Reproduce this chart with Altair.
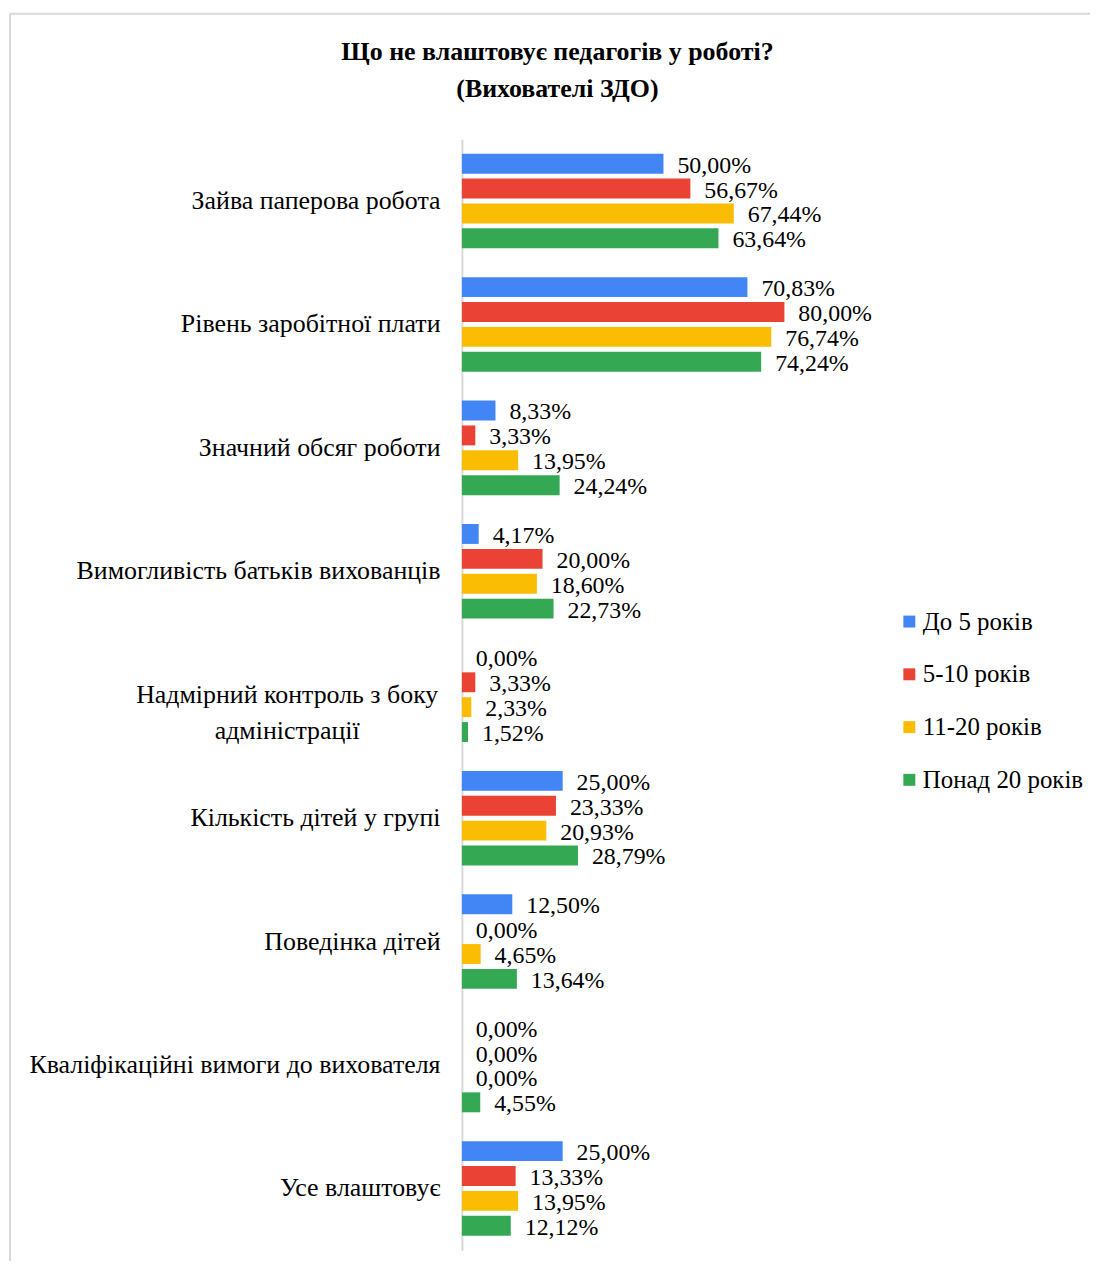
import altair as alt
import pandas as pd

categories = [
    "Зайва паперова робота",
    "Рівень заробітної плати",
    "Значний обсяг роботи",
    "Вимогливість батьків вихованців",
    "Надмірний контроль з боку\nадміністрації",
    "Кількість дітей у групі",
    "Поведінка дітей",
    "Кваліфікаційні  вимоги до вихователя",
    "Усе влаштовує",
]
series = ["До 5 років", "5-10 років", "11-20 років", "Понад 20 років"]
colors = ["#4285F4", "#EA4335", "#FBBC04", "#34A853"]

v_do5 = [50.00, 70.83, 8.33, 4.17, 0.00, 25.00, 12.50, 0.00, 25.00]
v_5_10 = [56.67, 80.00, 3.33, 20.00, 3.33, 23.33, 0.00, 0.00, 13.33]
v_11_20 = [67.44, 76.74, 13.95, 18.60, 2.33, 20.93, 4.65, 0.00, 13.95]
v_20p = [63.64, 74.24, 24.24, 22.73, 1.52, 28.79, 13.64, 4.55, 12.12]

title_lines = ["Що не влаштовує педагогів у роботі?", "(Вихователі ЗДО)"]

FONT = "Liberation Serif"
FS = 26

rows = []
for s, vals in zip(series, [v_do5, v_5_10, v_11_20, v_20p]):
    for c, v in zip(categories, vals):
        rows.append({"category": c, "series": s, "value": v})
df = pd.DataFrame(rows)

y_enc = alt.Y(
    "category:N",
    sort=categories,
    title=None,
    scale=alt.Scale(paddingInner=0.234, paddingOuter=0.117),
    axis=alt.Axis(
        domainColor="#d9d9d9",
        domainWidth=2,
        ticks=False,
        grid=False,
        labelFont=FONT,
        labelFontSize=FS,
        labelColor="#000000",
        labelLimit=0,
        labelLineHeight=36,
        labelBaseline="middle",
        labelExpr="split(datum.label, '\\n')",
        labelAlign={
            "condition": {"test": "indexof(datum.value, 'Надмірний') >= 0", "value": "center"},
            "value": "right",
        },
        labelPadding={
            "condition": {"test": "indexof(datum.value, 'Надмірний') >= 0", "value": 176},
            "value": 22,
        },
    ),
)
yoff_enc = alt.YOffset("series:N", sort=series, scale=alt.Scale(paddingInner=0.2, paddingOuter=0))
x_enc = alt.X("value:Q", scale=alt.Scale(domain=[0, 100]), axis=None)

bars = alt.Chart(df).mark_bar().encode(
    x=x_enc,
    y=y_enc,
    yOffset=yoff_enc,
    color=alt.Color(
        "series:N",
        sort=series,
        scale=alt.Scale(domain=series, range=colors),
        legend=alt.Legend(
            title=None,
            orient="none",
            legendX=437,
            legendY=472,
            symbolType="square",
            symbolSize=144,
            symbolStrokeWidth=0,
            labelFont=FONT,
            labelFontSize=25,
            labelColor="#000000",
            labelOffset=1,
            rowPadding=27,
            labelLimit=0,
        ),
    ),
)

labels = alt.Chart(df).transform_calculate(
    label="replace(format(datum.value, '.2f'), '.', ',') + '%'"
).mark_text(
    align="left", baseline="middle", dx=14, dy=2, font=FONT, fontSize=24, color="#000000"
).encode(x=x_enc, y=alt.Y("category:N", sort=categories), yOffset=yoff_enc, text="label:N")

one = alt.Data(values=[{"a": 1}])
frame_top = alt.Chart(one).mark_rule(color="#d9d9d9", strokeWidth=2).encode(
    x=alt.value(-454), x2=alt.value(640), y=alt.value(-126)
)
frame_left = alt.Chart(one).mark_rule(color="#d9d9d9", strokeWidth=2).encode(
    x=alt.value(-454), y=alt.value(-126), y2=alt.value(1140)
)

t1 = alt.Chart(alt.Data(values=[{"t": title_lines[0]}])).mark_text(
    font=FONT, fontSize=26, fontWeight="bold", align="center", baseline="middle", color="#000000"
).encode(text="t:N", x=alt.value(96), y=alt.value(-88))
t2 = alt.Chart(alt.Data(values=[{"t": title_lines[1]}])).mark_text(
    font=FONT, fontSize=26, fontWeight="bold", align="center", baseline="middle", color="#000000"
).encode(text="t:N", x=alt.value(96), y=alt.value(-50))

chart = (
    alt.layer(frame_top, frame_left, t1, t2, bars, labels)
    .properties(
        width=405,
        height=1116,
        padding={"left": 456, "top": 129, "right": 226, "bottom": 8},
        autosize=alt.AutoSizeParams(type="none"),
    )
    .configure_view(stroke=None)
)

chart.save("out.html", embed_options={"renderer": "svg", "actions": False})
